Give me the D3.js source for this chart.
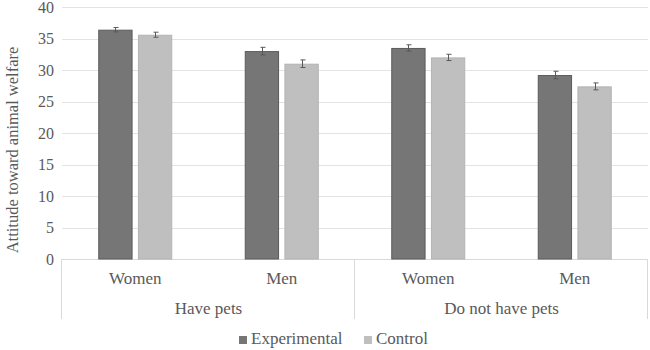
<!DOCTYPE html>
<html lang="en">
<head>
    <meta charset="UTF-8">
    <title>Attitude toward animal welfare</title>
    <script src="https://cdn.jsdelivr.net/npm/d3@7"></script>
    <style>
        body { margin: 0; background: #fff; }
    </style>
</head>
<body>
<script>

    // data
    var groups = ["Have pets", "Do not have pets"];
    var categories = ["Women", "Men", "Women", "Men"];
    var series = ["Experimental", "Control"];
    var experimental = [36.4, 33.0, 33.5, 29.2];
    var control = [35.6, 31.0, 32.0, 27.4];
    var expErr = [0.35, 0.6, 0.5, 0.6];
    var ctrlErr = [0.4, 0.6, 0.5, 0.55];
    var yTicks = [0, 5, 10, 15, 20, 25, 30, 35, 40];

    var width = 650;
    var height = 350;
    var margin = {top: 7, right: 2, bottom: 91, left: 62};
    var colors = {"Experimental": "#767676", "Control": "#bfbfbf"};
    var strokes = {"Experimental": "#5b5b5b", "Control": "#b3b3b3"};
    var serif = "Liberation Serif";

    var svg = d3.select("body").append("svg")
        .attr("width", width)
        .attr("height", height)
        .style("font-family", "'" + serif + "'")
        .attr("fill", "#595959");

    var yScale = d3.scaleLinear()
        .domain([0, 40])
        .range([height - margin.bottom, margin.top]);

    var xScale = d3.scaleBand()
        .domain(d3.range(categories.length))
        .range([margin.left, width - margin.right])
        .padding(0);

    var barW = 32, barGap = 10;
    var xInner = d3.scaleBand()
        .domain(series)
        .range([0, 2 * barW + barGap])
        .paddingInner(barGap / (barW + barGap / 2) / 2);

    // gridlines
    svg.append("g")
        .selectAll("line")
        .data(yTicks)
        .enter().append("line")
        .attr("x1", margin.left)
        .attr("x2", width - margin.right)
        .attr("y1", function (d) { return Math.round(yScale(d)) + 0.5; })
        .attr("y2", function (d) { return Math.round(yScale(d)) + 0.5; })
        .attr("stroke", function (d) { return d === 0 ? "#d9d9d9" : "#e3e3e3"; })
        .attr("stroke-width", 1);

    // y axis labels
    var yAxis = d3.axisLeft(yScale).tickValues(yTicks).tickSize(0).tickPadding(10);
    var gy = svg.append("g")
        .attr("transform", "translate(" + (margin.left + 2) + ",0)")
        .call(yAxis);
    gy.select(".domain").remove();
    gy.attr("font-family", serif);
    gy.selectAll("text")
        .attr("font-size", "16px")
        .attr("fill", "#595959");

    svg.append("text")
        .attr("transform", "translate(14,150) rotate(-90)")
        .attr("text-anchor", "middle")
        .attr("dominant-baseline", "middle")
        .attr("font-family", serif)
        .attr("font-size", "16.5px")
        .text("Attitude toward animal welfare");

    // bars
    var rows = [];
    categories.forEach(function (c, i) {
        rows.push({i: i, s: "Experimental", v: experimental[i], e: expErr[i]});
        rows.push({i: i, s: "Control", v: control[i], e: ctrlErr[i]});
    });

    function barX(d) {
        return xScale(d.i) + xScale.bandwidth() / 2 - (2 * barW + barGap) / 2 + xInner(d.s);
    }

    svg.append("g")
        .selectAll("rect")
        .data(rows)
        .enter().append("rect")
        .attr("x", function (d) { return barX(d) + 0.5; })
        .attr("y", function (d) { return yScale(d.v) + 0.5; })
        .attr("width", xInner.bandwidth() - 1)
        .attr("height", function (d) { return yScale(0) - yScale(d.v) - 0.5; })
        .attr("fill", function (d) { return colors[d.s]; })
        .attr("stroke", function (d) { return strokes[d.s]; })
        .attr("stroke-width", 1);

    // error bars
    var eb = svg.append("g")
        .attr("stroke", "#595959")
        .attr("stroke-width", 1);
    rows.forEach(function (d) {
        var cx = Math.round(barX(d) + xInner.bandwidth() / 2) + 0.5;
        var y1 = yScale(d.v + d.e), y2 = yScale(d.v - d.e);
        eb.append("line").attr("x1", cx).attr("x2", cx).attr("y1", y1).attr("y2", y2);
        eb.append("line").attr("x1", cx - 2).attr("x2", cx + 3).attr("y1", y1).attr("y2", y1);
        eb.append("line").attr("x1", cx - 2).attr("x2", cx + 3).attr("y1", y2).attr("y2", y2);
    });

    // category axis
    var base = yScale(0);
    svg.append("g")
        .attr("font-family", serif)
        .selectAll("text")
        .data(categories)
        .enter().append("text")
        .attr("x", function (d, i) { return xScale(i) + xScale.bandwidth() / 2; })
        .attr("y", base + 21)
        .attr("text-anchor", "middle")
        .attr("dominant-baseline", "middle")
        .attr("font-size", "17px")
        .text(function (d) { return d; });

    svg.append("g")
        .attr("font-family", serif)
        .selectAll("text")
        .data(groups)
        .enter().append("text")
        .attr("x", function (d, i) { return xScale(2 * i) + xScale.bandwidth(); })
        .attr("y", base + 51)
        .attr("text-anchor", "middle")
        .attr("dominant-baseline", "middle")
        .attr("font-size", "17px")
        .text(function (d) { return d; });

    var seps = [0, 2, 4];
    svg.append("g")
        .selectAll("line")
        .data(seps)
        .enter().append("line")
        .attr("x1", function (d) { return Math.round(d < 4 ? xScale(d) : width - margin.right) - 0.5; })
        .attr("x2", function (d) { return Math.round(d < 4 ? xScale(d) : width - margin.right) - 0.5; })
        .attr("y1", base)
        .attr("y2", base + 60)
        .attr("stroke", "#d9d9d9");

    // legend
    var legend = svg.append("g").attr("font-family", serif);
    var legX = [239, 364];
    series.forEach(function (s, i) {
        legend.append("rect")
            .attr("x", legX[i])
            .attr("y", 336)
            .attr("width", 8)
            .attr("height", 8)
            .attr("fill", colors[s]);
        legend.append("text")
            .attr("x", legX[i] + 12)
            .attr("y", 340)
            .attr("dominant-baseline", "middle")
            .attr("font-size", "17px")
            .text(s);
    });

</script>
</body>
</html>
